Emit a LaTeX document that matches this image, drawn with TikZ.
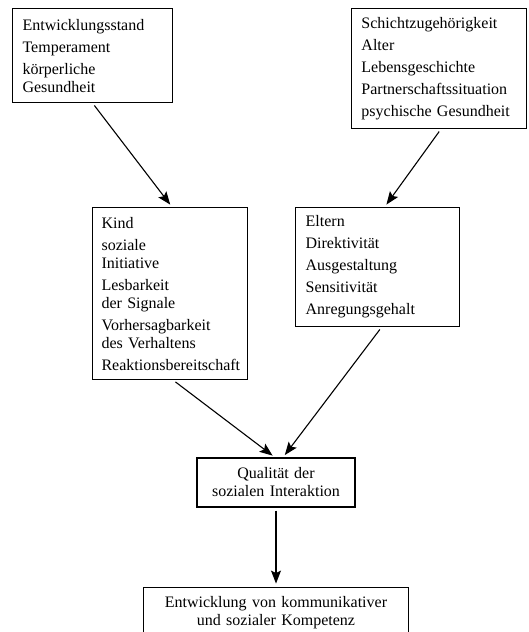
\documentclass[tikz,border=0pt]{standalone}
\usepackage{fontspec}
\setmainfont{Liberation Serif}
\usetikzlibrary{positioning}
\usetikzlibrary{arrows.meta}
\tikzset{box/.style={draw,line width=1.1pt,rectangle,align=left,inner xsep=10pt,inner ysep=0pt,font=\fontsize{16}{18}\selectfont}}
\tikzset{arr/.style={line width=1.1pt,-{Stealth[length=13pt,width=10pt,inset=2.5pt]},shorten <=3pt,shorten >=3pt}}

\begin{document}
\begin{tikzpicture}[x=1pt,y=1pt]
            \useasboundingbox (0,0) rectangle (528,-632);
            \node [box,text width=140pt,minimum height=94pt,anchor=north west] (entw) at (12,-8)
                {Entwicklungsstand\\[4pt]Temperament\\[4pt]körperliche\\Gesundheit};
            \node [box,text width=155pt,minimum height=120pt,anchor=north east] (schicht) at (527,-8)
                {Schichtzugehörigkeit\\[4pt]Alter\\[4pt]Lebensgeschichte\\[4pt]Partnerschaftssituation\\[4pt]psychische Gesundheit};
            \node [box,inner xsep=9pt,text width=137pt,minimum height=172pt,anchor=north west] (kind) at (92,-207)
                {Kind\\[4pt]soziale\\Initiative\\[4pt]Lesbarkeit\\der Signale\\[4pt]Vorhersagbarkeit\\des Verhaltens\\[4pt]Reaktionsbereitschaft};
            \node [box,text width=144pt,minimum height=119pt,right=47pt of kind.north east,anchor=north west] (eltern)
                {Eltern\\[4pt]Direktivität\\[4pt]Ausgestaltung\\[4pt]Sensitivität\\[4pt]Anregungsgehalt};
            \node [box,align=center,text width=138pt,minimum height=49pt] (qual) at (276,-482.5)
                {Qualität der\\sozialen Interaktion};
            \node [box,align=center,text width=245pt,minimum height=52pt,below=79pt of qual] (komp)
                {Entwicklung von kommunikativer\\und sozialer Kompetenz};
            \draw[arr] (entw.south) -- ([xshift=2pt]kind.north);
            \draw[arr] ([xshift=2pt]schicht.south) -- ([xshift=7pt]eltern.north);
            \draw[arr] ([xshift=3pt]kind.south) -- ([xshift=-1pt]qual.north);
            \draw[arr] ([xshift=4pt]eltern.south) -- ([xshift=7pt]qual.north);
            \draw[arr] (qual.south) -- (komp.north);
        \end{tikzpicture}
\end{document}
